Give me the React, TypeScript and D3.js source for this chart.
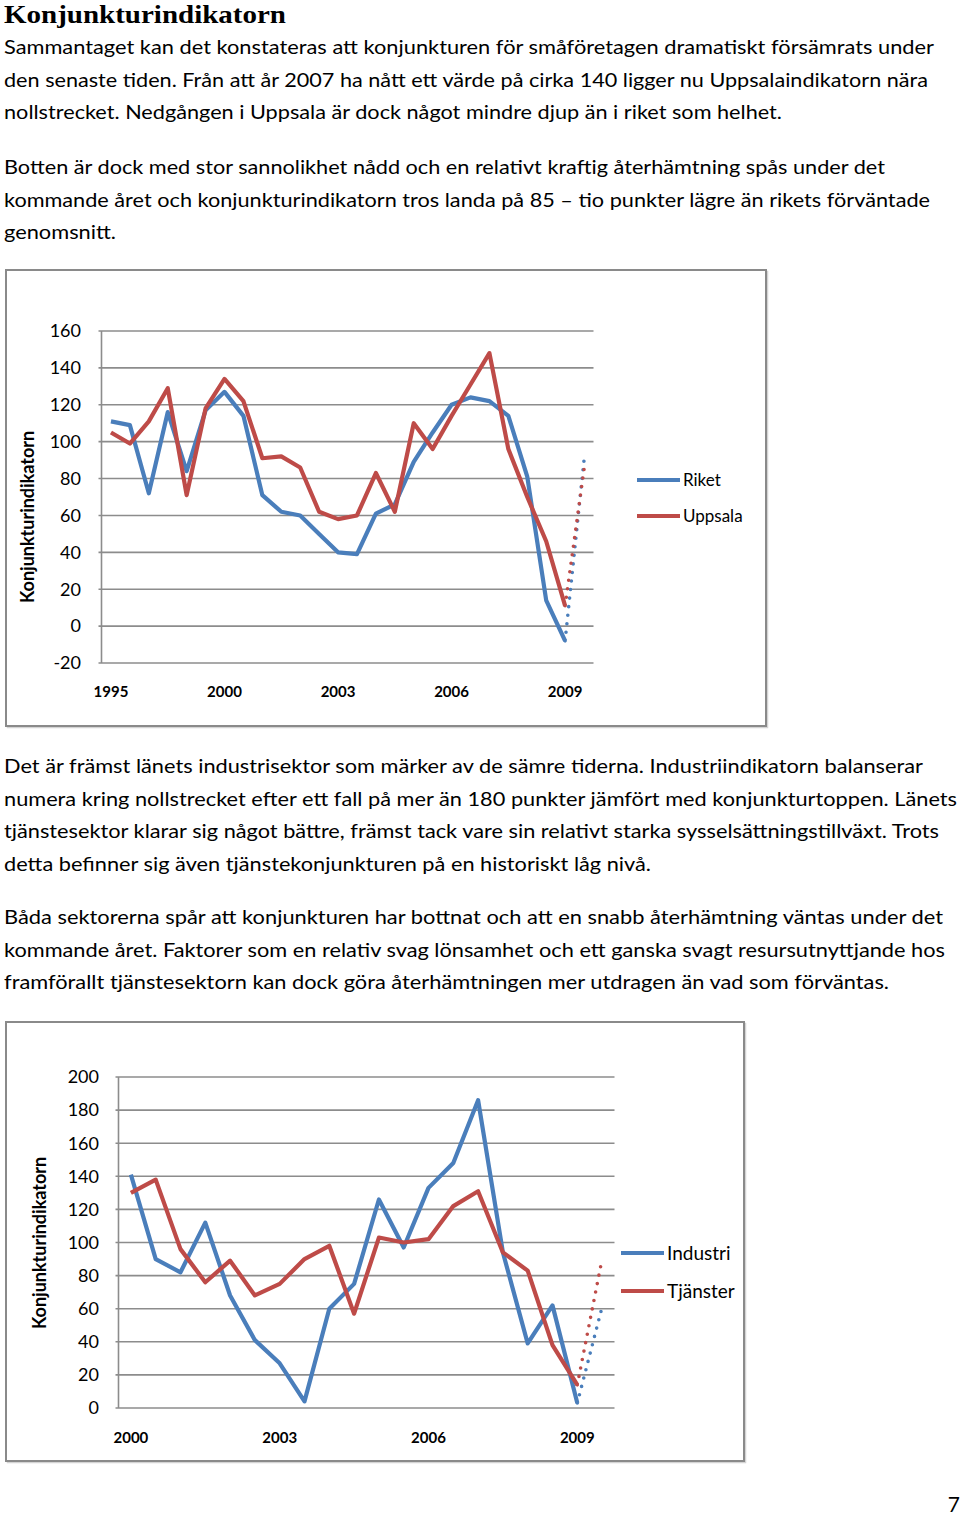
import * as d3 from "d3";

const FONT = "Lato, 'Open Sans', sans-serif";
const SERIF = "'Liberation Serif', 'DejaVu Serif', serif";
const BLUE = "#4a7ebb";
const RED = "#be4b48";
const GRID = "#8c8c8c";

// ── Diagram 1: Riket / Uppsala, halvårsvärden 1995–2009 ──────────
const riket = [111, 109, 72, 116, 84, 117, 127, 114, 71, 62, 60, 50, 40, 39, 61, 66, 89, 105, 120, 124, 122, 114, 81, 14, -8];
const uppsala = [105, 99, 111, 129, 71, 118, 134, 122, 91, 92, 86, 62, 58, 60, 83, 62, 110, 96, 114, 131, 148, 96, 70, 46, 11];
const riketPrognos = 90;
const uppsalaPrognos = 85;
const years1 = ["1995", "2000", "2003", "2006", "2009"];
const yTicks1 = [-20, 0, 20, 40, 60, 80, 100, 120, 140, 160];

// ── Diagram 2: Industri / Tjänster, 2000–2009 ────────────────────
const industri = [141, 90, 82, 112, 68, 41, 27, 4, 60, 75, 126, 97, 133, 148, 186, 94, 39, 62, 3];
const tjanster = [130, 138, 96, 76, 89, 68, 75, 90, 98, 57, 103, 100, 102, 122, 131, 94, 83, 38, 14];
const industriPrognos = 61;
const tjansterPrognos = 90;
const years2 = ["2000", "2003", "2006", "2009"];
const yTicks2 = [0, 20, 40, 60, 80, 100, 120, 140, 160, 180, 200];

// ── Brödtext ─────────────────────────────────────────────────────
const para1 = [
  "Sammantaget kan det konstateras att konjunkturen för småföretagen dramatiskt försämrats under",
  "den senaste tiden. Från att år 2007 ha nått ett värde på cirka 140 ligger nu Uppsalaindikatorn nära",
  "nollstrecket. Nedgången i Uppsala är dock något mindre djup än i riket som helhet.",
];
const para2 = [
  "Botten är dock med stor sannolikhet nådd och en relativt kraftig återhämtning spås under det",
  "kommande året och konjunkturindikatorn tros landa på 85 – tio punkter lägre än rikets förväntade",
  "genomsnitt.",
];
const para3 = [
  "Det är främst länets industrisektor som märker av de sämre tiderna. Industriindikatorn balanserar",
  "numera kring nollstrecket efter ett fall på mer än 180 punkter jämfört med konjunkturtoppen. Länets",
  "tjänstesektor klarar sig något bättre, främst tack vare sin relativt starka sysselsättningstillväxt. Trots",
  "detta befinner sig även tjänstekonjunkturen på en historiskt låg nivå.",
];
const para4 = [
  "Båda sektorerna spår att konjunkturen har bottnat och att en snabb återhämtning väntas under det",
  "kommande året. Faktorer som en relativ svag lönsamhet och ett ganska svagt resursutnyttjande hos",
  "framförallt tjänstesektorn kan dock göra återhämtningen mer utdragen än vad som förväntas.",
];

// högerkant för varje rad (px), uppmätt i förlagan
const para1Right = [934, 928, 782];
const para2Right = [885, 930, 116];
const para3Right = [923, 957, 939, 651];
const para4Right = [943, 945, 889];

function Paragraph({ lines, rights, top }: { lines: string[]; rights: number[]; top: number }) {
  return (
    <g>
      {lines.map((t, i) => (
        <text
          key={i}
          x={4}
          y={top + i * 32.7}
          fontFamily={FONT}
          fontSize={20}
          fill="#000"
          textLength={rights[i] - 4}
          lengthAdjust="spacingAndGlyphs"
        >
          {t}
        </text>
      ))}
    </g>
  );
}

interface Series {
  name: string;
  color: string;
  values: number[];
  prognos: number;
}

interface ChartProps {
  frame: [number, number, number, number];
  plot: { x0: number; x1: number; y0: number; y1: number };
  domain: [number, number];
  ticks: number[];
  tickX: number;
  years: string[];
  yearY: number;
  series: Series[];
  legendX: number;
  legendY: number[];
  legendSize: number;
  titleX: number;
  titleY: number;
}

function LineChart(p: ChartProps) {
  const nCats = p.series[0].values.length + 1;
  const x = d3.scaleBand<number>().domain(d3.range(nCats)).range([p.plot.x0, p.plot.x1]).padding(0);
  const y = d3.scaleLinear().domain(p.domain).range([p.plot.y1, p.plot.y0]);
  const cx = (i: number) => (x(i) ?? 0) + x.bandwidth() / 2;
  const line = d3.line<number>().x((_, i) => cx(i)).y((d) => y(d));
  const [fx, fy, fw, fh] = p.frame;

  return (
    <g>
      <rect x={fx + 1.5} y={fy + 1.5} width={fw} height={fh} fill="none" stroke="#d4d4d4" strokeWidth={1.5} />
      <rect x={fx} y={fy} width={fw} height={fh} fill="#fff" stroke="#8a8a8a" strokeWidth={2} />

      {p.ticks.map((t) => (
        <g key={t}>
          <line x1={p.plot.x0 - 3} x2={p.plot.x1} y1={y(t)} y2={y(t)} stroke={GRID} strokeWidth={1.6} />
          <text
            x={p.tickX}
            y={y(t)}
            dy="0.35em"
            textAnchor="end"
            fontFamily={FONT}
            fontSize={18}
            fill="#000"
          >
            {t}
          </text>
        </g>
      ))}
      <line x1={p.plot.x0} x2={p.plot.x0} y1={p.plot.y0} y2={p.plot.y1} stroke={GRID} strokeWidth={1.6} />

      {p.years.map((yr, i) => (
        <text
          key={yr}
          x={cx(i * 6)}
          y={p.yearY}
          textAnchor="middle"
          fontFamily={FONT}
          fontWeight={700}
          fontSize={15}
          fill="#000"
        >
          {yr}
        </text>
      ))}

      <text
        transform={`translate(${p.titleX},${p.titleY}) rotate(-90)`}
        textAnchor="middle"
        fontFamily={FONT}
        fontWeight={700}
        fontSize={18}
        fill="#000"
      >
        Konjunkturindikatorn
      </text>

      {p.series.map((s) => {
        const n = s.values.length;
        return (
          <g key={s.name}>
            <path
              d={line(s.values) ?? ""}
              fill="none"
              stroke={s.color}
              strokeWidth={4.2}
              strokeLinejoin="round"
            />
            <line
              x1={cx(n - 1)}
              y1={y(s.values[n - 1])}
              x2={cx(n)}
              y2={y(s.prognos)}
              stroke={s.color}
              strokeWidth={3.6}
              strokeLinecap="round"
              strokeDasharray="0 8.6"
            />
          </g>
        );
      })}

      {p.series.map((s, i) => (
        <g key={s.name + "-leg"}>
          <line
            x1={p.legendX}
            x2={p.legendX + 43}
            y1={p.legendY[i]}
            y2={p.legendY[i]}
            stroke={s.color}
            strokeWidth={4.2}
          />
          <text
            x={p.legendX + 46}
            y={p.legendY[i]}
            dy="0.35em"
            fontFamily={FONT}
            fontSize={p.legendSize}
            fill="#000"
          >
            {s.name}
          </text>
        </g>
      ))}
    </g>
  );
}

export default function App() {
  return (
    <div style={{ position: "absolute", left: 0, top: 0, width: 960, height: 1515, background: "#fff" }}>
      <svg width={960} height={1515} style={{ display: "block" }}>
        <rect width={960} height={1515} fill="#fff" />
        <text
          x={4}
          y={23}
          fontFamily={SERIF}
          fontWeight={700}
          fontSize={26}
          fill="#000"
          textLength={282}
          lengthAdjust="spacingAndGlyphs"
        >
          Konjunkturindikatorn
        </text>

        <Paragraph lines={para1} rights={para1Right} top={54} />
        <Paragraph lines={para2} rights={para2Right} top={174} />

        <LineChart
          frame={[6, 270, 760, 456]}
          plot={{ x0: 101.5, x1: 593.5, y0: 331, y1: 663 }}
          domain={[-20, 160]}
          ticks={yTicks1}
          tickX={81}
          years={years1}
          yearY={697}
          series={[
            { name: "Riket", color: BLUE, values: riket, prognos: riketPrognos },
            { name: "Uppsala", color: RED, values: uppsala, prognos: uppsalaPrognos },
          ]}
          legendX={637}
          legendY={[480, 516]}
          legendSize={17}
          titleX={34}
          titleY={517}
        />

        <Paragraph lines={para3} rights={para3Right} top={773} />
        <Paragraph lines={para4} rights={para4Right} top={924} />

        <LineChart
          frame={[6, 1022, 738, 439]}
          plot={{ x0: 118.5, x1: 614.5, y0: 1077, y1: 1408 }}
          domain={[0, 200]}
          ticks={yTicks2}
          tickX={99}
          years={years2}
          yearY={1443}
          series={[
            { name: "Industri", color: BLUE, values: industri, prognos: industriPrognos },
            { name: "Tjänster", color: RED, values: tjanster, prognos: tjansterPrognos },
          ]}
          legendX={621}
          legendY={[1253, 1291]}
          legendSize={19}
          titleX={46}
          titleY={1243}
        />

        <text x={960} y={1512} textAnchor="end" fontFamily={FONT} fontSize={21} fill="#000">
          7
        </text>
      </svg>
    </div>
  );
}
